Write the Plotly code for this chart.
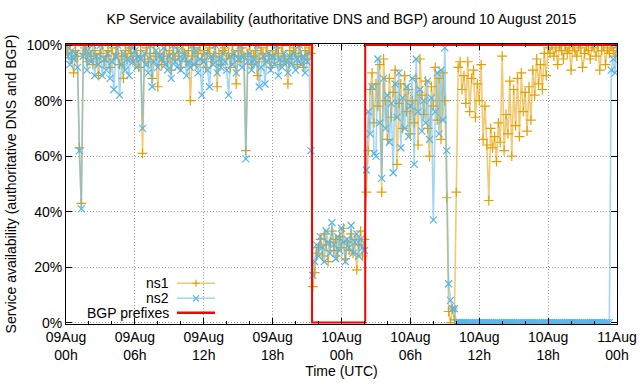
import pandas as pd
import plotly.graph_objects as go

# 10-minute samples, 09 Aug 2015 00:00 UTC to 11 Aug 2015 00:00 UTC
sample_start = "2015-08-09 00:00"
sample_step = "10min"

ns1 = [
    99, 97, 100, 95, 90, 98, 96, 63, 43, 97, 99, 94,
    100, 96, 93, 98, 95, 89, 97, 100, 94, 96, 98, 92,
    99, 95, 97, 100, 93, 96, 88, 98, 95, 99, 97, 94,
    100, 96, 92, 98, 61, 95, 99, 94, 97, 88, 100, 96,
    85, 97, 93, 96, 100, 94, 98, 91, 97, 95, 99,
    96, 92, 100, 97, 94, 98, 80, 96, 99, 93, 97, 100,
    95, 98, 92, 97, 99, 94, 96, 100, 85, 97, 93, 98,
    99, 95, 97, 92, 100, 96, 86, 98, 94, 99, 96, 62,
    97, 100, 93, 96, 98, 89, 95, 99, 97, 94, 100, 96,
    92, 98, 95, 99, 97, 93, 100, 96, 94, 86, 98, 95,
    99, 97, 93, 100, 96, 92, 98, 95, 99, 97,
    # BGP outage
    13, 18, 25, 27, 30, 24, 32, 28, 22, 29, 33, 26, 30, 24,
    31, 27, 34, 23, 29, 26, 32, 25, 30, 19, 28, 33, 24, 30,
    # after BGP recovery
    47, 62, 84, 90, 72, 86, 78, 93, 47, 95, 80, 66, 88, 74, 83,
    91, 57, 79, 86, 70, 89, 76, 84, 68, 80, 72, 88, 64, 95, 82,
    75, 87, 70, 60, 85, 78, 92, 73, 88, 66, 90, 80, 45,
    4, 0, 5, 1,
    47, 92, 94, 84, 89, 79, 94, 76, 88, 91, 74, 86, 80, 93, 66, 78,
    64, 44, 70, 63, 67, 58, 72, 65, 96, 62, 75, 68, 87, 60, 84, 71,
    88, 67, 90, 76, 83, 69, 85, 73, 91, 82, 95, 86, 93, 84, 97, 89,
    99, 97, 100, 96, 99, 93, 100, 98, 95, 100, 97, 99, 91, 100, 98,
    96, 100, 99, 92, 97, 100, 98, 95, 100, 99, 96, 100, 91, 98, 100,
    93, 99, 97, 100, 98, 96, 99,
]

ns2 = [
    100, 96, 93, 98, 95, 97, 92, 62, 41, 96, 99, 91,
    97, 94, 100, 89, 96, 93, 100, 89, 95, 91, 97, 88,
    94, 84, 96, 100, 82, 93, 97, 91, 95, 89, 100, 94,
    98, 92, 96, 95, 70, 97, 93, 90, 100, 85, 94, 98,
    92, 96, 95, 99, 93, 91, 96, 88, 100, 94, 92,
    98, 91, 95, 97, 89, 94, 92, 100, 93, 98, 90, 95,
    82, 94, 97, 91, 85, 96, 93, 100, 90, 95, 92, 97,
    94, 91, 82, 96, 93, 97, 90, 95, 100, 92, 96, 59,
    94, 97, 91, 95, 93, 100, 85, 92, 96, 86, 94, 97,
    91, 96, 93, 100, 89, 95, 92, 97, 94, 90, 96, 93,
    97, 91, 95, 100, 93, 96, 90, 94, 97, 62,
    # BGP outage
    17, 22, 28, 24, 31, 27, 22, 33, 29, 25, 36, 28, 23, 31,
    26, 34, 29, 22, 30, 27, 35, 25, 29, 32, 24, 30, 27, 26,
    # after BGP recovery
    55, 76, 68, 85, 61, 60, 95, 72, 52, 88, 70, 82, 65, 79, 54,
    86, 74, 90, 63, 81, 70, 85, 67, 78, 88, 57, 95, 76, 84, 69,
    80, 72, 87, 66, 81, 37, 76, 90, 68, 91, 73, 99, 62,
    14, 8, 5, 5,
    0, 0, 0, 0, 0, 0, 0, 0, 0, 0, 0, 0, 0, 0, 0, 0, 0, 0, 0, 0,
    0, 0, 0, 0, 0, 0, 0, 0, 0, 0, 0, 0, 0, 0, 0, 0, 0, 0, 0, 0,
    0, 0, 0, 0, 0, 0, 0, 0, 0, 0, 0, 0, 0, 0, 0, 0, 0, 0, 0, 0,
    0, 0, 0, 0, 0, 0, 0, 0, 0, 0, 0, 0, 0, 0, 0, 0, 0, 0, 0, 0,
    0,
    91, 95, 90, 100,
]

bgp_times = ["2015-08-09 00:00", "2015-08-09 21:26", "2015-08-10 02:04", "2015-08-11 00:00"]
bgp_values = [100, 0, 100, 100]

x_tick_values = ["2015-08-09 00:00", "2015-08-09 06:00", "2015-08-09 12:00", "2015-08-09 18:00",
                 "2015-08-10 00:00", "2015-08-10 06:00", "2015-08-10 12:00", "2015-08-10 18:00",
                 "2015-08-11 00:00"]
x_tick_labels = ["09Aug<br>00h", "09Aug<br>06h", "09Aug<br>12h", "09Aug<br>18h",
                 "10Aug<br>00h", "10Aug<br>06h", "10Aug<br>12h", "10Aug<br>18h",
                 "11Aug<br>00h"]
y_tick_values = [0, 20, 40, 60, 80, 100]
y_tick_labels = ["0%", "20%", "40%", "60%", "80%", "100%"]

series_names = ["ns1", "ns2", "BGP prefixes"]

times = pd.date_range(sample_start, periods=len(ns1), freq=sample_step)

FONT = "Liberation Sans, Arial, Helvetica, sans-serif"
W, H = 640, 384
ML, MR, MT, MB = 66, 23, 44, 60
PW, PH = W - ML - MR, H - MT - MB

ORANGE = "#E69F00"
ORANGE_LINE = "rgba(230,159,0,0.55)"
BLUE = "#56B4E9"
BLUE_LINE = "rgba(86,180,233,0.55)"
RED = "#FF0000"


def px_x(px):
    return (px - ML) / PW


def px_y(py):
    return (H - MB - py) / PH


fig = go.Figure()
fig.add_trace(go.Scatter(
    x=times, y=ns1, name=series_names[0], mode="lines+markers",
    line=dict(color=ORANGE_LINE, width=1.6),
    marker=dict(symbol="cross-thin", size=7, color=ORANGE, line=dict(color=ORANGE, width=1.2)),
    showlegend=False,
))
fig.add_trace(go.Scatter(
    x=times, y=ns2, name=series_names[1], mode="lines+markers",
    line=dict(color=BLUE_LINE, width=1.6),
    marker=dict(symbol="x-thin", size=7, color=BLUE, line=dict(color=BLUE, width=1.2)),
    showlegend=False,
))
fig.add_trace(go.Scatter(
    x=bgp_times, y=bgp_values, name=series_names[2], mode="lines",
    line=dict(color=RED, width=2, shape="hv"),
    showlegend=False,
))

axis_common = dict(
    showline=True, linecolor="#000000", linewidth=1, mirror="ticks",
    ticks="inside", tickcolor="#000000", ticklen=6, tickwidth=1,
    showgrid=True, gridcolor="#9a9a9a", gridwidth=1, griddash="1px,2px",
    zeroline=False, tickfont=dict(family=FONT, size=14, color="#000000"),
    automargin=False,
)

fig.update_xaxes(
    **axis_common,
    type="date", range=["2015-08-09 00:00", "2015-08-11 00:00"],
    tickmode="array", tickvals=x_tick_values, ticktext=x_tick_labels,
    minor=dict(ticks="inside", ticklen=3, tickcolor="#000000", dtick=2 * 3600 * 1000,
               tick0="2015-08-09 00:00", showgrid=False),
    title=dict(text="Time (UTC)", font=dict(family=FONT, size=14, color="#000000"), standoff=0),
)
fig.update_yaxes(
    **axis_common,
    range=[-0.5, 100.4],
    tickmode="array", tickvals=y_tick_values, ticktext=y_tick_labels,
    title=dict(text="Service availability (authoritative DNS and BGP)",
               font=dict(family=FONT, size=14, color="#000000"), standoff=6),
)

# gnuplot-style key: right-aligned label, sample line (with point) to its right
shapes = []
annotations = []
key_rows = [283.3, 298.3, 312.7]
key_styles = [(ORANGE_LINE, 1.6, ORANGE, "plus"), (BLUE_LINE, 1.6, BLUE, "cross"), (RED, 2.5, None, None)]
for name, row, (lc, lw, mc, mk) in zip(series_names, key_rows, key_styles):
    annotations.append(dict(
        text=name, xref="paper", yref="paper", x=px_x(171), y=px_y(row),
        xanchor="right", yanchor="middle", showarrow=False,
        font=dict(family=FONT, size=14, color="#000000"),
    ))
    shapes.append(dict(type="line", xref="paper", yref="paper",
                       x0=px_x(177), x1=px_x(215), y0=px_y(row), y1=px_y(row),
                       line=dict(color=lc, width=lw)))
    if mk == "plus":
        shapes.append(dict(type="line", xref="paper", yref="paper",
                           x0=px_x(192.5), x1=px_x(199.5), y0=px_y(row), y1=px_y(row),
                           line=dict(color=mc, width=1.2)))
        shapes.append(dict(type="line", xref="paper", yref="paper",
                           x0=px_x(196), x1=px_x(196), y0=px_y(row - 3.5), y1=px_y(row + 3.5),
                           line=dict(color=mc, width=1.2)))
    elif mk == "cross":
        shapes.append(dict(type="line", xref="paper", yref="paper",
                           x0=px_x(193), x1=px_x(199), y0=px_y(row - 3), y1=px_y(row + 3),
                           line=dict(color=mc, width=1.2)))
        shapes.append(dict(type="line", xref="paper", yref="paper",
                           x0=px_x(193), x1=px_x(199), y0=px_y(row + 3), y1=px_y(row - 3),
                           line=dict(color=mc, width=1.2)))

fig.update_layout(
    width=W, height=H,
    margin=dict(l=ML, r=MR, t=MT, b=MB),
    paper_bgcolor="#ffffff", plot_bgcolor="#ffffff",
    title=dict(text="KP Service availability (authoritative DNS and BGP) around 10 August 2015",
               font=dict(family=FONT, size=14, color="#000000"),
               x=341.5 / W, xanchor="center", y=1 - 19 / H, yanchor="middle"),
    showlegend=False,
    shapes=shapes,
    annotations=annotations,
)

fig.write_html("out.html",
               config={"displayModeBar": False},
               post_script="document.body.style.margin='0';document.body.style.padding='0';")
